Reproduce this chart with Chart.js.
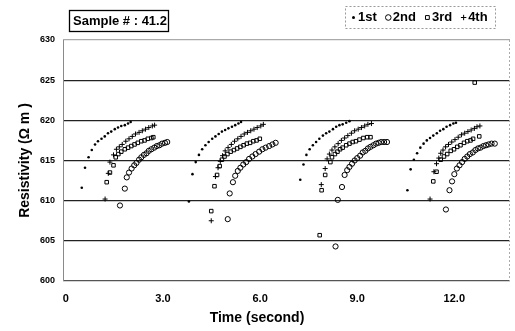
<!DOCTYPE html>
<html>
<head>
<meta charset="utf-8">
<script src="https://cdn.jsdelivr.net/npm/chart.js@4.4.1/dist/chart.umd.min.js"></script>
<style>
  html, body { margin: 0; padding: 0; background: #fff; }
</style>
</head>
<body>
<canvas id="myChart" width="515" height="331"></canvas>
<script>
"use strict";

// Data

const sampleLabel = "Sample # : 41.2";
const seriesNames = ["1st", "2nd", "3rd", "4th"];
const xTicks = [0, 3, 6, 9, 12];
const yTicks = [600, 605, 610, 615, 620, 625, 630];

// 1st reading (small dots)
const time1st = [
  0.49, 0.59, 0.70, 0.80, 0.90, 0.99, 1.10, 1.20, 1.30, 1.40, 1.51, 1.61, 1.71, 1.82, 1.92, 2.00,
  3.80, 3.91, 4.01, 4.11, 4.21, 4.31, 4.41, 4.52, 4.62, 4.72, 4.82, 4.92, 5.02, 5.13, 5.23, 5.33, 5.41,
  7.24, 7.34, 7.43, 7.53, 7.63, 7.73, 7.83, 7.94, 8.04, 8.14, 8.25, 8.35, 8.45, 8.55, 8.66, 8.76,
  10.55, 10.65, 10.75, 10.85, 10.95, 11.05, 11.15, 11.25, 11.35, 11.46, 11.56, 11.66, 11.76, 11.87, 11.97, 12.05,
];
const res1st = [
  611.6, 614.1, 615.4, 616.3, 617.0, 617.4, 617.7, 618.0, 618.4, 618.6, 618.9, 619.1, 619.3, 619.4, 619.6, 619.8,
  609.9, 613.3, 614.8, 615.7, 616.4, 616.9, 617.3, 617.7, 618.0, 618.3, 618.6, 618.8, 619.0, 619.2, 619.4, 619.6, 619.8,
  612.6, 614.5, 615.7, 616.4, 616.9, 617.3, 617.7, 618.1, 618.4, 618.6, 618.9, 619.2, 619.4, 619.5, 619.7, 619.9,
  611.3, 613.9, 615.1, 615.9, 616.6, 617.1, 617.5, 617.8, 618.1, 618.4, 618.7, 618.9, 619.2, 619.4, 619.6, 619.7,
];

// 2nd reading (open circles)
const time2nd = [
  1.67, 1.82, 1.88, 1.95, 2.03, 2.11, 2.18, 2.26, 2.33, 2.41, 2.49, 2.56, 2.64, 2.73, 2.81, 2.89, 2.97, 3.06, 3.13,
  5.00, 5.06, 5.16, 5.23, 5.31, 5.39, 5.48, 5.57, 5.66, 5.76, 5.86, 5.97, 6.07, 6.17, 6.28, 6.38, 6.48,
  8.33, 8.40, 8.53, 8.61, 8.69, 8.76, 8.84, 8.92, 9.00, 9.09, 9.17, 9.25, 9.33, 9.41, 9.50, 9.58, 9.66, 9.74, 9.83, 9.92,
  11.74, 11.85, 11.93, 12.00, 12.08, 12.16, 12.24, 12.32, 12.40, 12.48, 12.57, 12.65, 12.73, 12.81, 12.90, 12.98, 13.06, 13.15, 13.25,
];
const res2nd = [
  609.4, 611.5, 612.9, 613.5, 614.0, 614.4, 614.7, 615.1, 615.4, 615.7, 615.9, 616.2, 616.4, 616.6, 616.8, 616.9, 617.1, 617.2, 617.3,
  607.7, 610.9, 612.3, 613.1, 613.7, 614.1, 614.5, 614.8, 615.2, 615.5, 615.8, 616.1, 616.4, 616.6, 616.8, 617.0, 617.2,
  604.3, 610.1, 611.7, 613.2, 613.8, 614.2, 614.6, 615.0, 615.3, 615.6, 616.0, 616.2, 616.5, 616.7, 616.9, 617.1, 617.2, 617.3, 617.3, 617.3,
  608.9, 611.3, 612.4, 613.3, 614.0, 614.4, 614.8, 615.2, 615.5, 615.8, 616.0, 616.3, 616.5, 616.6, 616.8, 616.9, 617.0, 617.1, 617.1,
];

// 3rd reading (open squares)
const time3rd = [
  1.26, 1.36, 1.47, 1.54, 1.62, 1.71, 1.82, 1.92, 2.02, 2.12, 2.22, 2.33, 2.43, 2.53, 2.64, 2.70,
  4.49, 4.59, 4.67, 4.75, 4.82, 4.90, 4.99, 5.09, 5.19, 5.29, 5.39, 5.49, 5.59, 5.69, 5.79, 5.89, 5.99,
  7.84, 7.90, 8.01, 8.17, 8.22, 8.31, 8.39, 8.47, 8.55, 8.66, 8.76, 8.86, 8.96, 9.07, 9.19, 9.31, 9.41,
  11.35, 11.45, 11.58, 11.68, 11.78, 11.89, 11.99, 12.09, 12.19, 12.30, 12.40, 12.50, 12.58, 12.63, 12.77,
];
const res3rd = [
  612.3, 613.5, 614.4, 615.4, 615.8, 616.1, 616.4, 616.6, 616.8, 617.0, 617.2, 617.4, 617.5, 617.7, 617.8, 617.9,
  608.7, 611.8, 613.2, 614.3, 615.1, 615.5, 615.8, 616.1, 616.3, 616.5, 616.7, 616.9, 617.1, 617.2, 617.4, 617.5, 617.7,
  605.7, 611.3, 613.2, 614.8, 615.4, 615.8, 616.1, 616.4, 616.6, 616.9, 617.1, 617.3, 617.4, 617.6, 617.8, 617.9, 617.9,
  612.4, 613.6, 615.1, 615.5, 615.8, 616.2, 616.4, 616.7, 616.9, 617.2, 617.4, 617.5, 617.7, 624.7, 618.0,
];

// 4th reading (crosses)
const time4th = [
  1.21, 1.31, 1.36, 1.47, 1.56, 1.65, 1.74, 1.85, 1.95, 2.05, 2.15, 2.26, 2.36, 2.46, 2.56, 2.67, 2.74,
  4.49, 4.62, 4.70, 4.77, 4.84, 4.92, 5.01, 5.11, 5.21, 5.31, 5.41, 5.51, 5.61, 5.71, 5.81, 5.91, 6.02, 6.10,
  7.89, 8.01, 8.07, 8.14, 8.22, 8.31, 8.41, 8.51, 8.61, 8.71, 8.82, 8.92, 9.03, 9.13, 9.23, 9.33, 9.44,
  11.25, 11.37, 11.45, 11.52, 11.58, 11.65, 11.73, 11.82, 11.92, 12.02, 12.12, 12.22, 12.32, 12.42, 12.52, 12.62, 12.70, 12.79,
];
const res4th = [
  610.2, 613.4, 614.8, 615.7, 616.4, 616.7, 617.0, 617.4, 617.7, 618.0, 618.3, 618.5, 618.7, 618.9, 619.1, 619.3, 619.4,
  607.5, 613.0, 614.1, 614.9, 615.6, 616.2, 616.6, 617.0, 617.4, 617.7, 618.0, 618.3, 618.5, 618.7, 618.9, 619.1, 619.3, 619.5,
  612.0, 614.0, 615.2, 615.8, 616.3, 616.7, 617.1, 617.5, 617.8, 618.1, 618.4, 618.7, 618.9, 619.1, 619.3, 619.5, 619.6,
  610.2, 613.6, 614.6, 615.3, 615.9, 616.3, 616.7, 617.0, 617.3, 617.6, 617.9, 618.2, 618.4, 618.6, 618.8, 619.0, 619.2, 619.3, 619.4,
];

const FONT = "'Liberation Sans', Arial, sans-serif";

const toPoints = (times, values) => times.map((t, i) => ({ x: t, y: values[i] }));

const markerStyles = [
  { pointStyle: "circle", radius: 1.3, borderWidth: 0, fill: "#000" },
  { pointStyle: "circle", radius: 2.6, borderWidth: 1, fill: "rgba(0,0,0,0)" },
  { pointStyle: "rect", radius: 2.5, borderWidth: 1, fill: "rgba(0,0,0,0)" },
  { pointStyle: "cross", radius: 2.5, borderWidth: 1, fill: "rgba(0,0,0,0)" },
];

const seriesData = [
  toPoints(time1st, res1st),
  toPoints(time2nd, res2nd),
  toPoints(time3rd, res3rd),
  toPoints(time4th, res4th),
];

const datasets = seriesNames.map((name, i) => ({
  label: name,
  data: seriesData[i],
  showLine: false,
  pointStyle: markerStyles[i].pointStyle,
  pointRadius: markerStyles[i].radius,
  pointBorderWidth: markerStyles[i].borderWidth,
  pointBackgroundColor: markerStyles[i].fill,
  pointBorderColor: "#000",
}));

// frame, sample box, legend box and x title

const decorations = {
  id: "decorations",
  beforeDatasetsDraw(chart) {
    const { ctx, chartArea: a } = chart;
    ctx.save();
    ctx.strokeStyle = "#8a8a8a";
    ctx.lineWidth = 1;
    ctx.beginPath();
    ctx.moveTo(a.left + 0.5, a.top);
    ctx.lineTo(a.left + 0.5, a.bottom);
    ctx.stroke();
    ctx.setLineDash([2, 2]);
    ctx.strokeStyle = "#aaa";
    ctx.beginPath();
    ctx.moveTo(a.right - 0.5, a.top);
    ctx.lineTo(a.right - 0.5, a.bottom);
    ctx.stroke();
    ctx.restore();
  },
  afterDraw(chart) {
    const ctx = chart.ctx;
    ctx.save();
    ctx.font = `bold 13px ${FONT}`;
    ctx.fillStyle = "#000";
    ctx.textBaseline = "middle";

    // sample box
    ctx.strokeStyle = "#000";
    ctx.lineWidth = 1.3;
    ctx.strokeRect(69.5, 10.5, 99, 21);
    ctx.fillText(sampleLabel, 73, 21.5);

    // legend box
    ctx.setLineDash([2, 2]);
    ctx.strokeStyle = "#999";
    ctx.lineWidth = 1;
    ctx.strokeRect(345.5, 6.5, 150, 22);
    ctx.setLineDash([]);

    let x = 350;
    seriesNames.forEach((name, i) => {
      const m = markerStyles[i];
      ctx.fillStyle = m.fill;
      ctx.strokeStyle = "#000";
      ctx.lineWidth = m.borderWidth;
      Chart.helpers.drawPoint(ctx, {
        pointStyle: m.pointStyle,
        radius: m.radius + 0.2,
        borderWidth: m.borderWidth,
        rotation: 0,
      }, x + 3.5, 17.5);
      ctx.fillStyle = "#000";
      ctx.fillText(name, x + 8, 17.5);
      x += 8 + ctx.measureText(name).width + 8;
    });

    // x axis title
    ctx.font = `bold 14px ${FONT}`;
    ctx.textAlign = "center";
    ctx.fillText("Time (second)", 257, 318);
    ctx.restore();
  },
};

const ctx = document.getElementById("myChart").getContext("2d");
const myChart = new Chart(ctx, {
  type: "scatter",
  data: { datasets },
  options: {
    responsive: false,
    animation: false,
    layout: { padding: { top: 40, right: 2, left: 0, bottom: 0 } },
    plugins: {
      legend: { display: false },
      tooltip: { enabled: false },
    },
    scales: {
      x: {
        type: "linear",
        min: -0.09,
        max: 13.72,
        grid: { display: false, drawTicks: false },
        border: { display: false },
        afterBuildTicks: (scale) => {
          scale.ticks = xTicks.map((v) => ({ value: v }));
        },
        afterFit: (scale) => {
          scale.height = 50;
        },
        ticks: {
          padding: 11,
          color: "#000",
          font: { family: FONT, size: 11, weight: "bold" },
          callback: (v) => (v === 0 ? "0" : v.toFixed(1)),
        },
      },
      y: {
        min: 600,
        max: 630,
        afterBuildTicks: (scale) => {
          scale.ticks = yTicks.map((v) => ({ value: v }));
        },
        afterFit: (scale) => {
          scale.width = 63;
        },
        grid: {
          drawTicks: false,
          lineWidth: 1.2,
          color: (c) =>
            c.tick.value === 630 ? "#aaa" : c.tick.value === 600 ? "#555" : "#222",
        },
        border: { display: false },
        ticks: {
          padding: 8,
          color: "#000",
          font: { family: FONT, size: 9, weight: "bold" },
        },
        title: {
          display: true,
          text: "Resistivity (Ω m )",
          color: "#000",
          padding: { top: 17, bottom: 0 },
          font: { family: FONT, size: 14, weight: "bold" },
        },
      },
    },
  },
  plugins: [decorations],
});
</script>
</body>
</html>
